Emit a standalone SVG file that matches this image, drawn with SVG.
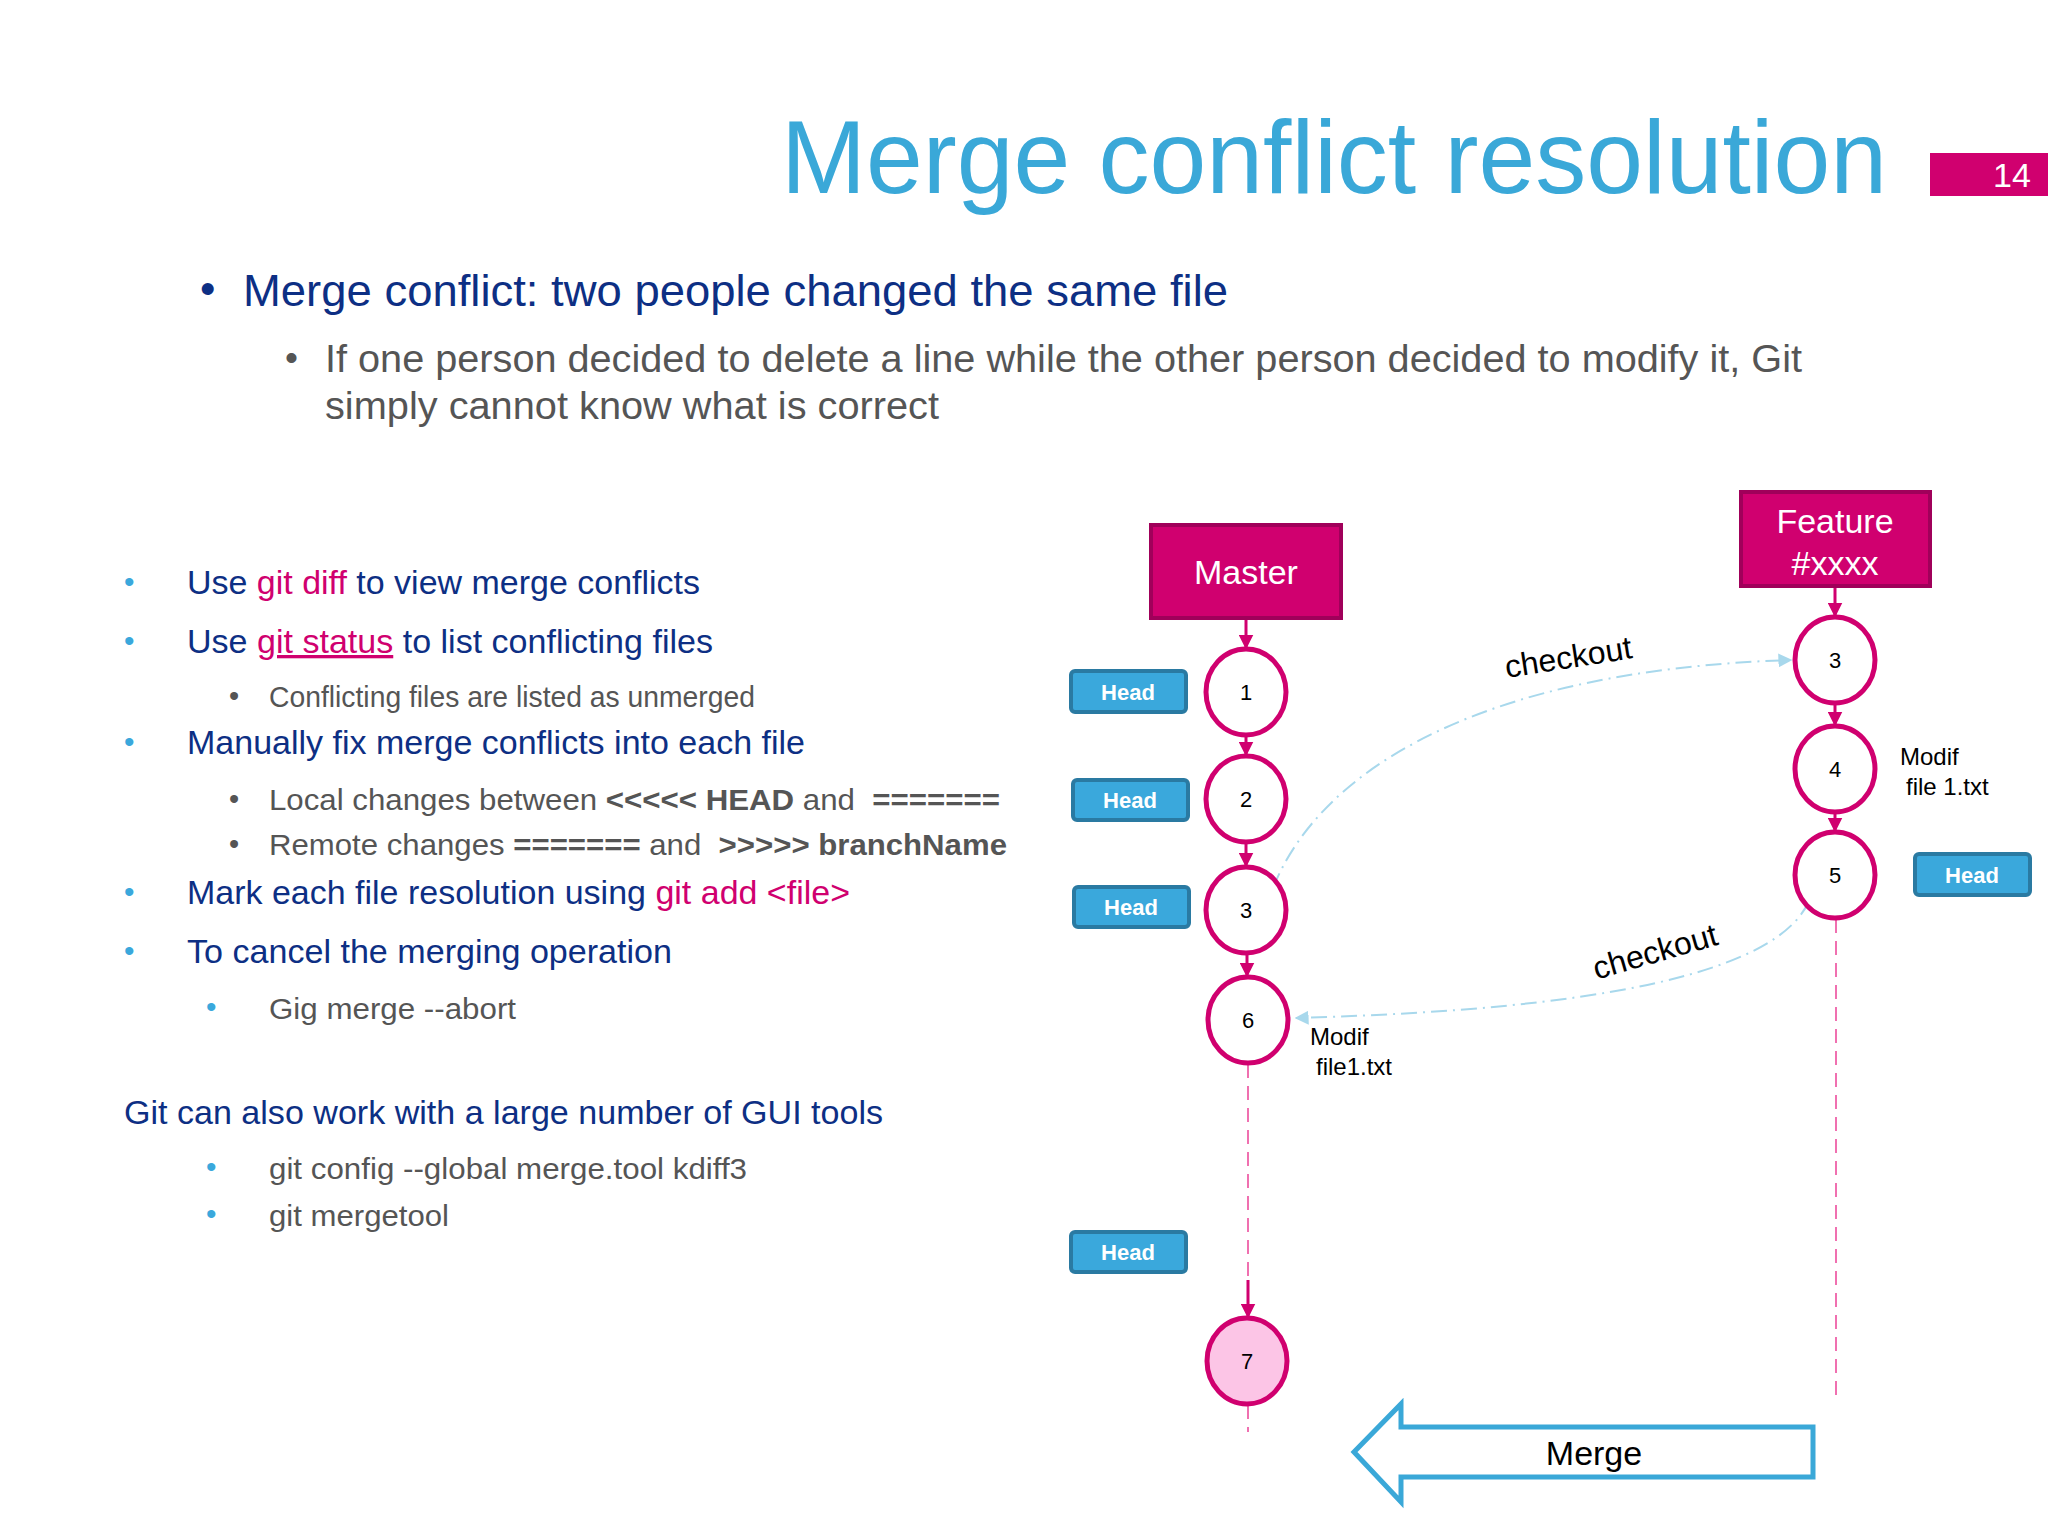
<svg xmlns="http://www.w3.org/2000/svg" width="2048" height="1536" viewBox="0 0 2048 1536">
<style>
text{font-family:"Liberation Sans",Arial,sans-serif}
.nv{fill:#0d2f84;font-size:33px}
.gr{fill:#555;font-size:29px}
.mg{fill:#d0006f}
.bd{font-weight:bold}
.bl{fill:#3aa8dc}
.br{fill:#d0006f;stroke:#a0005a;stroke-width:4}
.bt{fill:#fff;font-size:34px;text-anchor:middle}
.c{fill:#fff;stroke:#d0006f;stroke-width:5}
.ct{font-size:22px;text-anchor:middle;fill:#000}
.hd{fill:#3aa8dc;stroke:#2a7aa2;stroke-width:4}
.ht{fill:#fff;font-size:22px;font-weight:bold;text-anchor:middle}
.ln{stroke:#d0006f;stroke-width:3;fill:none}
.ds{stroke:#f070b0;stroke-width:2;stroke-dasharray:14 8;fill:none}
.co{stroke:#a8d8ec;stroke-width:2;stroke-dasharray:16 6 2 6;fill:none}
.sm{font-size:24px;fill:#000}
</style>
<defs>
<marker id="ma" viewBox="0 0 10 10" refX="9" refY="5" markerWidth="5" markerHeight="5" orient="auto"><path d="M0,0L10,5L0,10z" fill="#d0006f"/></marker>
<marker id="ca" viewBox="0 0 10 10" refX="9" refY="5" markerWidth="7" markerHeight="7" orient="auto"><path d="M0,0L10,5L0,10z" fill="#a8d8ec"/></marker>
</defs>
<text x="781" y="193" font-size="104" fill="#3aa8d8" textLength="1106" lengthAdjust="spacingAndGlyphs">Merge conflict resolution</text>
<rect x="1930" y="153" width="118" height="43" fill="#d0006f"/>
<text x="2012" y="187" font-size="34" fill="#fff" text-anchor="middle">14</text>
<text x="200" y="304" font-size="44" fill="#0d2f84">•</text>
<text x="243" y="306" font-size="44" fill="#0d2f84" textLength="985" lengthAdjust="spacingAndGlyphs">Merge conflict: two people changed the same file</text>
<text x="285" y="370" font-size="37" fill="#555">•</text>
<text x="325" y="372" font-size="38" fill="#555" textLength="1477" lengthAdjust="spacingAndGlyphs">If one person decided to delete a line while the other person decided to modify it, Git</text>
<text x="325" y="419" font-size="38" fill="#555" textLength="614" lengthAdjust="spacingAndGlyphs">simply cannot know what is correct</text>
<g font-size="30" class="bl">
<text x="124" y="592" class="bl">•</text><text x="124" y="651" class="bl">•</text><text x="124" y="752" class="bl">•</text><text x="124" y="902" class="bl">•</text><text x="124" y="961" class="bl">•</text>
<text x="206" y="1017" class="bl">•</text><text x="206" y="1177" class="bl">•</text><text x="206" y="1224" class="bl">•</text>
</g>
<text x="187" y="594" class="nv" textLength="513" lengthAdjust="spacingAndGlyphs">Use <tspan class="mg">git diff</tspan> to view merge conflicts</text>
<text x="187" y="653" class="nv" textLength="526" lengthAdjust="spacingAndGlyphs">Use <tspan class="mg" text-decoration="underline">git status</tspan> to list conflicting files</text>
<text x="229" y="706" class="gr">•</text><text x="269" y="707" class="gr" textLength="486" lengthAdjust="spacingAndGlyphs">Conflicting files are listed as unmerged</text>
<text x="187" y="754" class="nv" textLength="618" lengthAdjust="spacingAndGlyphs">Manually fix merge conflicts into each file</text>
<text x="229" y="809" class="gr">•</text><text x="269" y="810" class="gr" font-size="33" xml:space="preserve" textLength="731" lengthAdjust="spacingAndGlyphs">Local changes between <tspan class="bd">&lt;&lt;&lt;&lt;&lt; HEAD</tspan> and  <tspan class="bd">=======</tspan></text>
<text x="229" y="854" class="gr">•</text><text x="269" y="855" class="gr" font-size="33" xml:space="preserve" textLength="738" lengthAdjust="spacingAndGlyphs">Remote changes <tspan class="bd">=======</tspan> and  <tspan class="bd">&gt;&gt;&gt;&gt;&gt; branchName</tspan></text>
<text x="187" y="904" class="nv" textLength="663" lengthAdjust="spacingAndGlyphs">Mark each file resolution using <tspan class="mg">git add &lt;file&gt;</tspan></text>
<text x="187" y="963" class="nv" textLength="485" lengthAdjust="spacingAndGlyphs">To cancel the merging operation</text>
<text x="269" y="1019" class="gr" textLength="247" lengthAdjust="spacingAndGlyphs">Gig merge --abort</text>
<text x="124" y="1124" class="nv" textLength="759" lengthAdjust="spacingAndGlyphs">Git can also work with a large number of GUI tools</text>
<text x="269" y="1179" class="gr" textLength="478" lengthAdjust="spacingAndGlyphs">git config --global merge.tool kdiff3</text>
<text x="269" y="1226" class="gr" textLength="180" lengthAdjust="spacingAndGlyphs">git mergetool</text>

<g id="connectors">
<path class="ln" d="M1246,618V648" marker-end="url(#ma)"/>
<path class="ln" d="M1246,736V755" marker-end="url(#ma)"/>
<path class="ln" d="M1246,843V866" marker-end="url(#ma)"/>
<path class="ln" d="M1247,954V976" marker-end="url(#ma)"/>
<path class="ds" d="M1248,1064V1290"/>
<path class="ln" d="M1248,1280V1317" marker-end="url(#ma)"/>
<path class="ds" d="M1248,1405V1432"/>
<path class="ln" d="M1835,586V616" marker-end="url(#ma)"/>
<path class="ln" d="M1835,704V725" marker-end="url(#ma)"/>
<path class="ln" d="M1835,813V831" marker-end="url(#ma)"/>
<path class="ds" d="M1836,919V1400"/>
<path class="co" d="M1273,888C1320,770 1480,670 1791,660" marker-end="url(#ca)"/>
<path class="co" d="M1809,901C1770,990 1510,1012 1296,1018" marker-end="url(#ca)"/>
<text x="1570" y="668" font-size="32" fill="#000" text-anchor="middle" transform="rotate(-9 1570 668)">checkout</text>
<text x="1658" y="962" font-size="32" fill="#000" text-anchor="middle" transform="rotate(-16 1658 962)">checkout</text>
</g>

<g id="master"><rect x="1151" y="525" width="190" height="93" class="br"/><text x="1246" y="584" class="bt">Master</text></g>
<g id="feature"><rect x="1741" y="492" width="189" height="94" class="br"/><text x="1835" y="533" class="bt">Feature</text><text x="1835" y="575" class="bt">#xxxx</text></g>
<g id="m1"><ellipse cx="1246" cy="692" rx="40" ry="43" class="c"/><text x="1246" y="700" class="ct">1</text></g>
<g id="m2"><ellipse cx="1246" cy="799" rx="40" ry="43" class="c"/><text x="1246" y="807" class="ct">2</text></g>
<g id="m3"><ellipse cx="1246" cy="910" rx="40" ry="43" class="c"/><text x="1246" y="918" class="ct">3</text></g>
<g id="m6"><ellipse cx="1248" cy="1020" rx="40" ry="43" class="c"/><text x="1248" y="1028" class="ct">6</text>
<text x="1310" y="1045" class="sm">Modif</text><text x="1316" y="1075" class="sm">file1.txt</text></g>
<g id="m7"><ellipse cx="1247" cy="1361" rx="40" ry="43" class="c" style="fill:#fcc5e6"/><text x="1247" y="1369" class="ct">7</text></g>
<g id="f3"><ellipse cx="1835" cy="660" rx="40" ry="43" class="c"/><text x="1835" y="668" class="ct">3</text></g>
<g id="f4"><ellipse cx="1835" cy="769" rx="40" ry="43" class="c"/><text x="1835" y="777" class="ct">4</text>
<text x="1900" y="765" class="sm">Modif</text><text x="1906" y="795" class="sm">file 1.txt</text></g>
<g id="f5"><ellipse cx="1835" cy="875" rx="40" ry="43" class="c"/><text x="1835" y="883" class="ct">5</text></g>
<g id="h1"><rect x="1071" y="671" width="115" height="41" rx="4" class="hd"/><text x="1128" y="700" class="ht">Head</text></g>
<g id="h2"><rect x="1073" y="780" width="115" height="40" rx="4" class="hd"/><text x="1130" y="808" class="ht">Head</text></g>
<g id="h3"><rect x="1074" y="887" width="115" height="40" rx="4" class="hd"/><text x="1131" y="915" class="ht">Head</text></g>
<g id="h4"><rect x="1915" y="854" width="115" height="41" rx="4" class="hd"/><text x="1972" y="883" class="ht">Head</text></g>
<g id="h5"><rect x="1071" y="1232" width="115" height="40" rx="4" class="hd"/><text x="1128" y="1260" class="ht">Head</text></g>
<g id="merge"><path d="M1354,1452L1401,1404V1427H1813V1477H1401V1502Z" fill="#fff" stroke="#3aa8d8" stroke-width="5"/><text x="1594" y="1465" font-size="34" text-anchor="middle" fill="#000">Merge</text></g>
</svg>
